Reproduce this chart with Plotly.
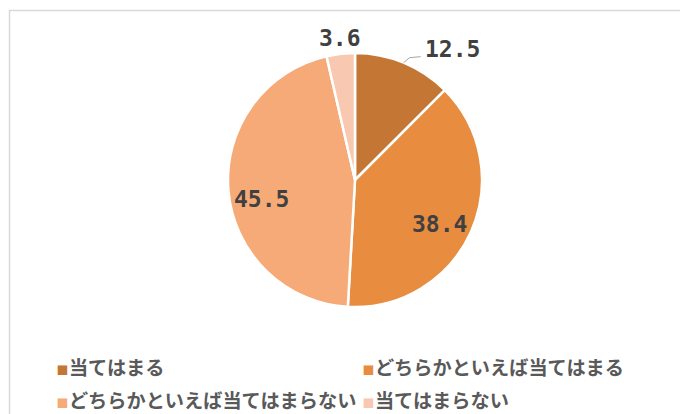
import math
import plotly.graph_objects as go

labels = ["当てはまる", "どちらかといえば当てはまる", "どちらかといえば当てはまらない", "当てはまらない"]
values = [12.5, 38.4, 45.5, 3.6]
value_text = ["12.5", "38.4", "45.5", "3.6"]

colors = ["#C47634", "#E88C40", "#F6AA78", "#F8C9B0"]
# label placement style: radius factor and pixel shifts
label_r = [1.18, 0.74, 0.74, 1.14]
label_dx = [40, -1, 0, 1]
label_dy = [7, 6, 11, 2]
legend_slot = ["legend", "legend2", "legend", "legend2"]

W, H = 688, 414
OFF = 8  # page body margin
CX, CY, R = 355, 180, 127


def px(x):
    return (x - OFF) / W


def py(y):
    return 1 - (y - OFF) / H


fig = go.Figure()
fig.add_trace(go.Pie(
    labels=labels,
    values=values,
    sort=False,
    direction="clockwise",
    rotation=0,
    textinfo="none",
    marker=dict(colors=colors, line=dict(color="white", width=2.5)),
    domain=dict(x=[px(CX - R), px(CX + R)], y=[py(CY + R), py(CY - R)]),
    hoverinfo="label+value",
    showlegend=False,
))

# legend entries (two columns, as in the original)
for name, col, slot in zip(labels, colors, legend_slot):
    fig.add_trace(go.Scatter(
        x=[None], y=[None], mode="markers",
        name=(f"<span style='font-family:DejaVu Sans;font-size:19px;color:{col}'>▪</span>"
              f"<span style='font-size:19.2px'>{name}</span>"),
        marker=dict(symbol="square", size=1, color="rgba(0,0,0,0)", line=dict(width=0)),
        legend=slot, showlegend=True, hoverinfo="skip",
    ))

total = sum(values)
cum = 0.0
annotations = []
shapes = []
for i, v in enumerate(values):
    mid = (cum + v / 2) / total * 2 * math.pi
    cum += v
    r = R * label_r[i]
    lx = CX + r * math.sin(mid) + label_dx[i]
    ly = CY - r * math.cos(mid) + label_dy[i]
    annotations.append(dict(
        x=px(lx), y=py(ly), xref="paper", yref="paper",
        text=value_text[i], showarrow=False,
        font=dict(family="DejaVu Sans Mono", size=23, color="#404040", weight="bold"),
        xanchor="center", yanchor="middle",
    ))
    if i == 0:
        ex = CX + R * math.sin(mid)
        ey = CY - R * math.cos(mid)
        shapes.append(dict(type="path", xref="paper", yref="paper",
                           path=f"M {px(ex)},{py(ey)} L {px(ex + 6)},{py(ey - 5)} L {px(ex + 17)},{py(ey - 6)}",
                           line=dict(color="#A6A6A6", width=1)))

shapes.append(dict(type="rect", xref="paper", yref="paper",
                   x0=px(9.5), y0=py(440), x1=px(720), y1=py(10.5),
                   line=dict(color="#D9D9D9", width=1.5), fillcolor="rgba(0,0,0,0)"))

legend_font = dict(family="Noto Sans CJK JP", size=23, color="#595959", weight="bold")
fig.update_layout(
    width=W, height=H,
    margin=dict(l=0, r=0, t=0, b=0, autoexpand=False),
    paper_bgcolor="white",
    plot_bgcolor="rgba(0,0,0,0)",
    showlegend=True,
    xaxis=dict(visible=False),
    yaxis=dict(visible=False),
    legend=dict(orientation="v", x=px(16), y=py(345), xanchor="left", yanchor="top",
                font=legend_font, itemclick=False, bgcolor="rgba(0,0,0,0)"),
    legend2=dict(orientation="v", x=px(322), y=py(345), xanchor="left", yanchor="top",
                 font=legend_font, itemclick=False, bgcolor="rgba(0,0,0,0)"),
    annotations=annotations,
    shapes=shapes,
)

fig.write_html("out.html")
